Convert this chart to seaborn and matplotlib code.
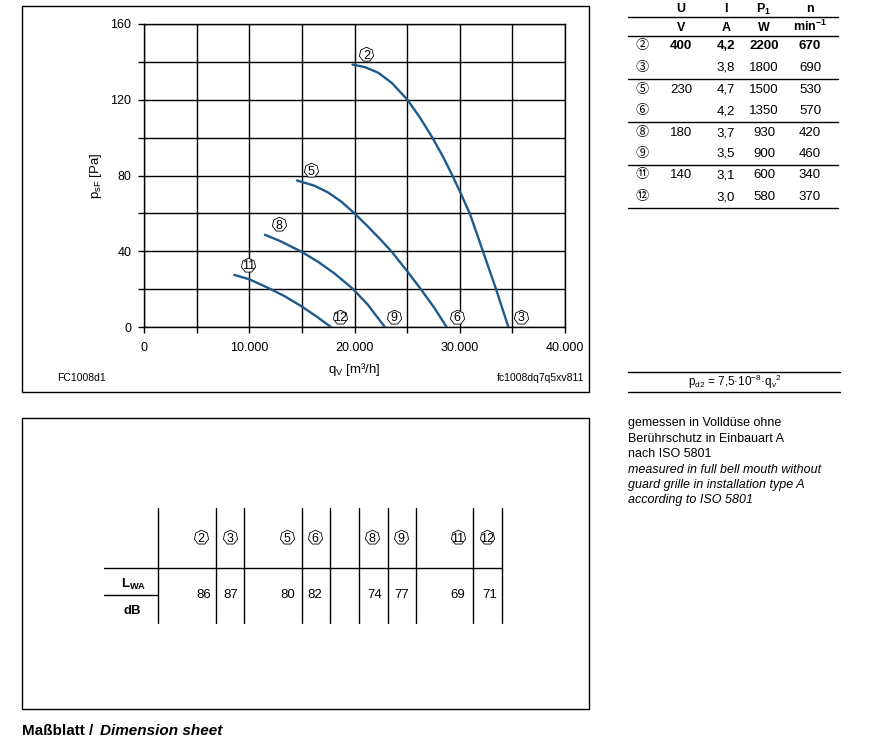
import matplotlib
matplotlib.use("Agg")
import matplotlib.pyplot as plt
import matplotlib.transforms as mtransforms
from matplotlib.lines import Line2D
from matplotlib.patches import Rectangle
from matplotlib.ticker import MultipleLocator
import pandas as pd
import seaborn as sns

# characteristic curves (q_V in m3/h, p_sF in Pa)
q_400 = [19810, 21010, 22280, 23540, 25030, 26230, 27400, 28450, 29300, 30020, 30950,
         31580, 32200, 33450, 34620]
p_400 = [138.6, 137.2, 134.2, 128.9, 120.0, 110.5, 100.0, 89.5, 80.0, 71.5, 60.0,
         50.0, 40.0, 20.0, 0.0]
q_230 = [14525, 16200, 17500, 18750, 20000, 21250, 22500, 23500, 25000, 26300, 27600, 28750]
p_230 = [77.4, 74.6, 71.0, 66.2, 60.0, 53.2, 46.0, 40.0, 29.5, 20.0, 10.0, 0.0]
q_180 = [11490, 13010, 14910, 16490, 18070, 19810, 21230, 22880]
p_180 = [48.7, 45.2, 39.9, 34.6, 28.4, 20.3, 12.0, 0.0]
q_140 = [8580, 10000, 11740, 13320, 14910, 16330, 17760]
p_140 = [27.5, 25.2, 20.8, 16.4, 11.1, 5.8, 0.0]
start_ids = [2, 5, 8, 11]
end_ids = [3, 6, 9, 12]

x_ticks = [0, 10000, 20000, 30000, 40000]
x_tick_labels = ["0", "10.000", "20.000", "30.000", "40.000"]
y_ticks = [0, 40, 80, 120, 160]

# operating point table
point_ids = [2, 3, 5, 6, 8, 9, 11, 12]
point_glyphs = ["②", "③", "⑤", "⑥", "⑧", "⑨", "⑪", "⑫"]
u_vals = ["400", "", "230", "", "180", "", "140", ""]
i_vals = ["4,2", "3,8", "4,7", "4,2", "3,7", "3,5", "3,1", "3,0"]
p1_vals = ["2200", "1800", "1500", "1350", "930", "900", "600", "580"]
n_vals = ["670", "690", "530", "570", "420", "460", "340", "370"]
lwa_vals = ["86", "87", "80", "82", "74", "77", "69", "71"]

notes_de = ["gemessen in Volldüse ohne", "Berührschutz in Einbauart A", "nach ISO 5801"]
notes_en = ["measured in full bell mouth without", "guard grille in installation type A",
            "according to ISO 5801"]

CURVE_COLOR = "#1f5a8c"
W, H = 890, 737

sns.set_theme(style="white")
plt.rcParams["font.family"] = ["Liberation Sans", "Noto Sans CJK JP"]
plt.rcParams["mathtext.fontset"] = "custom"
plt.rcParams["mathtext.rm"] = "Liberation Sans"
plt.rcParams["mathtext.it"] = "Liberation Sans:italic"
plt.rcParams["mathtext.bf"] = "Liberation Sans:bold"
for key in ["text.color", "axes.labelcolor", "xtick.color", "ytick.color"]:
    plt.rcParams[key] = "black"


def fx(x):
    return x / W


def fy(y):
    return 1 - y / H


def hline(fig, x0, x1, y, lw=1.0):
    fig.add_artist(Line2D([fx(x0), fx(x1)], [fy(y), fy(y)], color="black", lw=lw,
                          transform=fig.transFigure))


def vline(fig, x, y0, y1, lw=1.0):
    fig.add_artist(Line2D([fx(x), fx(x)], [fy(y0), fy(y1)], color="black", lw=lw,
                          transform=fig.transFigure))


def hept(fig, x, y, label):
    fig.add_artist(Line2D([fx(x)], [fy(y)], marker=(7, 0, 0), ms=10.5, mfc="white",
                          mec="black", mew=0.6, transform=fig.transFigure))
    fig.text(fx(x), fy(y), label, ha="center", va="center_baseline", fontsize=9)


fig = plt.figure(figsize=(W / 100, H / 100), dpi=100)

# ---- characteristic chart
ax = fig.add_axes([fx(144), fy(327), (565 - 144) / W, (327 - 24) / H])
frames = []
for name, q, p in [("400", q_400, p_400), ("230", q_230, p_230),
                   ("180", q_180, p_180), ("140", q_140, p_140)]:
    frames.append(pd.DataFrame({"q": q, "p": p, "curve": name}))
df = pd.concat(frames, ignore_index=True)
sns.lineplot(data=df, x="q", y="p", units="curve", estimator=None, sort=False,
             color=CURVE_COLOR, lw=1.7, ax=ax, zorder=3)

ax.set_xlim(0, 40000)
ax.set_ylim(0, 160)
ax.set_xticks(x_ticks)
ax.set_xticklabels(x_tick_labels)
ax.set_yticks(y_ticks)
ax.xaxis.set_minor_locator(MultipleLocator(5000))
ax.yaxis.set_minor_locator(MultipleLocator(20))
ax.grid(which="both", color="black", lw=1.0)
for s in ax.spines.values():
    s.set_color("black")
    s.set_linewidth(1.0)
ax.tick_params(which="both", direction="out", length=4, width=1.0, color="black",
               labelsize=9, labelcolor="black", bottom=True, left=True)
ax.tick_params(axis="x", pad=7)
ax.tick_params(axis="y", pad=5)
ax.set_xlabel(r"q$_\mathrm{V}$ [m³/h]", fontsize=9.5, labelpad=5)
ax.set_ylabel(r"p$_\mathrm{sF}$ [Pa]", fontsize=9.5, labelpad=5)

curves = [(q_400, p_400), (q_230, p_230), (q_180, p_180), (q_140, p_140)]
end_dx = [9, 7.5, 6.5, 6.5]
for (q, p), sid, eid, edx in zip(curves, start_ids, end_ids, end_dx):
    for x, y, lab, dx, dy in [(q[0], p[0], sid, 10, 7.5), (q[-1], p[-1], eid, edx, 7.5)]:
        tr = mtransforms.offset_copy(ax.transData, fig=fig, x=dx, y=dy, units="points")
        ax.plot([x], [y], marker=(7, 0, 0), ms=10.5, mfc="white", mec="black", mew=0.6,
                transform=tr, clip_on=False, zorder=4)
        ax.text(x, y, str(lab), transform=tr, ha="center", va="center_baseline",
                fontsize=9, zorder=5, clip_on=False)

fig.add_artist(Rectangle((fx(22), fy(392)), (589 - 22) / W, (392 - 6) / H, fill=False,
                         lw=1.0, edgecolor="black", transform=fig.transFigure))
fig.text(fx(57), fy(378), "FC1008d1", fontsize=7.5, ha="left", va="center")
fig.text(fx(584), fy(378), "fc1008dq7q5xv811", fontsize=7.5, ha="right", va="center")

# ---- operating point table
col_x = [681, 726, 764, 810]
header = ["U", "I", r"P$_\mathbf{1}$", "n"]
units = ["V", "A", "W", r"min$^\mathbf{-1}$"]
for x, h, u in zip(col_x, header, units):
    fig.text(fx(x), fy(12.5), h, ha="center", va="baseline", fontsize=9, fontweight="bold")
    fig.text(fx(x), fy(31), u, ha="center", va="baseline", fontsize=9, fontweight="bold")
row_y = [45, 67, 89, 110, 132, 153, 174, 196]
for k, y in enumerate(row_y):
    fw = "bold" if k == 0 else "normal"
    fig.text(fx(642), fy(y + 4), point_glyphs[k], ha="center", va="baseline", fontsize=9.5)
    for x, v in zip(col_x, [u_vals[k], i_vals[k], p1_vals[k], n_vals[k]]):
        fig.text(fx(x), fy(y + 4), v, ha="center", va="baseline", fontsize=9.5,
                 fontweight=fw)
for y in [17, 36, 79, 122, 165, 208]:
    hline(fig, 628, 838, y)

hline(fig, 628, 840, 372)
hline(fig, 628, 840, 392)
fig.text(fx(735), fy(382), r"p$_\mathrm{d2}$ = 7,5·10$^{-8}$·q$_\mathrm{v}$$^2$",
         ha="center", va="center", fontsize=8.5)

for k, line in enumerate(notes_de + notes_en):
    st = "italic" if k >= 3 else "normal"
    fig.text(fx(628), fy(423 + k * 15.5), line, ha="left", va="center", fontsize=9, style=st)

# ---- sound power table
fig.add_artist(Rectangle((fx(22), fy(709)), (589 - 22) / W, (709 - 418) / H, fill=False,
                         lw=1.0, edgecolor="black", transform=fig.transFigure))
for x in [158, 216, 244, 302, 330, 359, 387.5, 416, 473.5, 501.5]:
    vline(fig, x, 508, 623)
hline(fig, 104, 501.5, 567.5)
hline(fig, 104, 158, 595)
lab_x = [201, 230, 287, 315, 372, 401, 458, 487]
val_x = [204, 231, 288, 315, 375, 402, 458, 490]
for lx, vx, pid, v in zip(lab_x, val_x, point_ids, lwa_vals):
    hept(fig, lx, 537, str(pid))
    fig.text(fx(vx), fy(595), v, ha="center", va="center", fontsize=9.5)
fig.text(fx(134), fy(584), r"L$_\mathbf{WA}$", ha="center", va="center", fontsize=9.5,
         fontweight="bold")
fig.text(fx(132), fy(611), "dB", ha="center", va="center", fontsize=9.5, fontweight="bold")

fig.text(fx(22), fy(731), "Maßblatt /", ha="left", va="center", fontsize=11, fontweight="bold")
fig.text(fx(100), fy(731), "Dimension sheet", ha="left", va="center", fontsize=11,
         fontweight="bold", style="italic")

fig.savefig("out.png", dpi=100)
